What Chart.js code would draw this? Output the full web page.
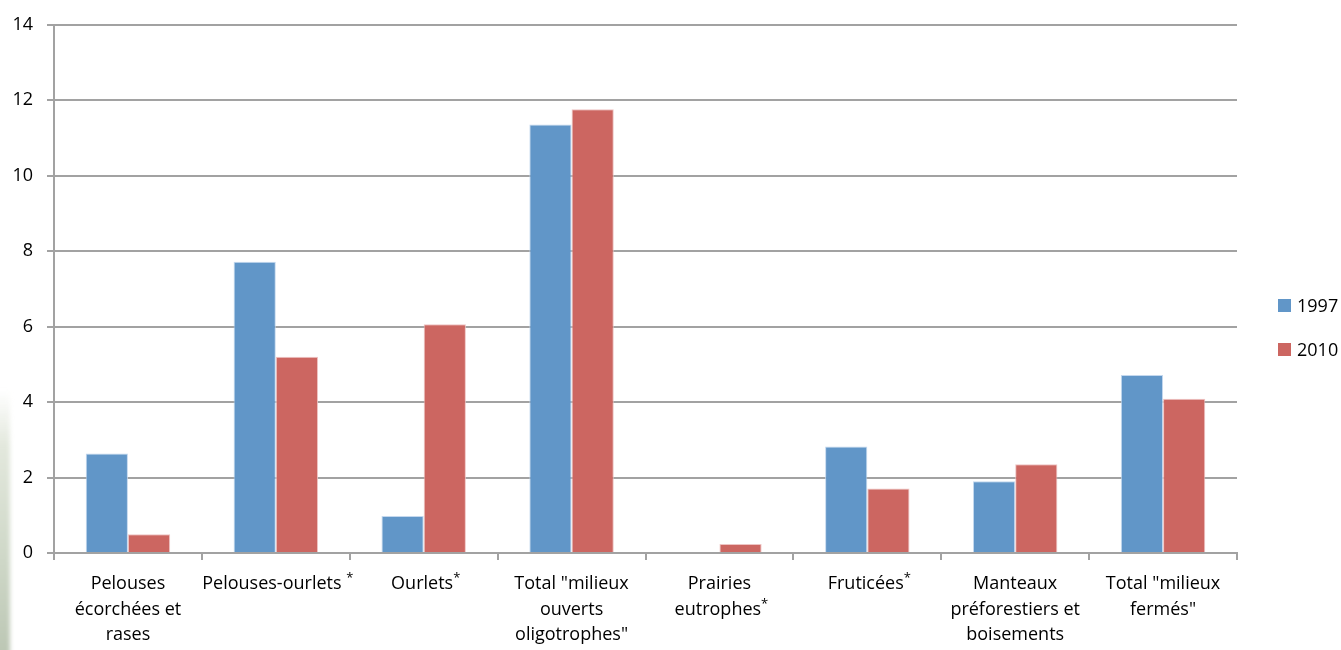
<!DOCTYPE html>
<html lang="fr">
<head>
<meta charset="utf-8">
<title>Milieux 1997 / 2010</title>
<script src="https://cdn.jsdelivr.net/npm/chart.js@4/dist/chart.umd.min.js"></script>
<style>
  html, body { margin: 0; padding: 0; background: #fff; }
  #wrap { position: relative; width: 1341px; height: 650px; overflow: hidden; }
  #edge {
    position: absolute; left: -6px; top: 390px; width: 16px; height: 280px;
    background: linear-gradient(180deg, rgba(225,230,220,0) 0%, #e3e8dd 20%, #cfd8c8 60%, #b9c4b1 100%);
    filter: blur(2px);
  }
  .legend { position: absolute; left: 1278px; font: 18px "Open Sans", sans-serif; color: #000; }
  .legend span.box { position: absolute; left: 0; width: 13px; height: 13px; }
  .legend span.txt { position: absolute; left: 19px; top: -6px; white-space: nowrap; }
</style>
</head>
<body>
<div id="wrap">
  <div id="edge"></div>
  <canvas id="chart"></canvas>
  <div class="legend" style="top:299px"><span class="box" style="background:#6196c8"></span><span class="txt">1997</span></div>
  <div class="legend" style="top:343px"><span class="box" style="background:#cc6661"></span><span class="txt">2010</span></div>
</div>
<script>
// Category labels, one entry per line; a trailing '*' is drawn as a superscript
const categories = [
  ['Pelouses', 'écorchées et', 'rases'],
  ['Pelouses-ourlets *'],
  ['Ourlets*'],
  ['Total "milieux', 'ouverts', 'oligotrophes"'],
  ['Prairies', 'eutrophes*'],
  ['Fruticées*'],
  ['Manteaux', 'préforestiers et', 'boisements'],
  ['Total "milieux', 'fermés"']
];
const years = ['1997', '2010'];
const values1997 = [2.64, 7.72, 0.98, 11.36, 0, 2.82, 1.90, 4.72];
const values2010 = [0.50, 5.20, 6.06, 11.76, 0.24, 1.71, 2.35, 4.09];
const yTicks = [0, 2, 4, 6, 8, 10, 12, 14];

const FONT = '"Open Sans", sans-serif';
const GRID = '#a2a2a2';

// draws the multi-line category names under the axis
const categoryLabels = {
  id: 'categoryLabels',
  afterDraw(chart) {
    const ctx = chart.ctx;
    const xs = chart.scales.x;
    ctx.save();
    ctx.fillStyle = '#000';
    ctx.textBaseline = 'alphabetic';
    ctx.textAlign = 'left';
    categories.forEach((lines, i) => {
      const cx = xs.getPixelForValue(i);
      lines.forEach((line, j) => {
        const y = 589 + j * 25.5;
        const star = line.endsWith('*');
        const main = star ? line.slice(0, -1) : line;
        ctx.font = '18px ' + FONT;
        const w = ctx.measureText(main).width;
        let sw = 0;
        if (star) {
          ctx.font = '13px ' + FONT;
          sw = ctx.measureText('*').width;
        }
        const x0 = cx - (w + sw) / 2 + (star ? 2 : 0);
        ctx.font = '18px ' + FONT;
        ctx.fillText(main, x0, y);
        if (star) {
          ctx.font = '13px ' + FONT;
          ctx.fillText('*', x0 + w, y - 7);
        }
      });
    });
    ctx.restore();
  }
};

new Chart(document.getElementById('chart'), {
  type: 'bar',
  data: {
    labels: categories.map(c => c.join(' ')),
    datasets: [
      { label: years[0], data: values1997, backgroundColor: '#6196c8', borderColor: 'rgba(190,212,236,0.9)', borderWidth: 1, borderSkipped: 'bottom' },
      { label: years[1], data: values2010, backgroundColor: '#cc6661', borderColor: 'rgba(236,190,188,0.9)', borderWidth: 1, borderSkipped: 'bottom' }
    ]
  },
  plugins: [categoryLabels],
  options: {
    responsive: true,
    maintainAspectRatio: false,
    animation: false,
    events: [],
    layout: { padding: { top: 22, right: 104, left: 0, bottom: 0 } },
    datasets: { bar: { categoryPercentage: 0.571, barPercentage: 1 } },
    plugins: { legend: { display: false }, tooltip: { enabled: false } },
    scales: {
      x: {
        grid: { display: true, drawOnChartArea: false, drawTicks: true, tickLength: 7, color: GRID, lineWidth: 2, offset: true },
        border: { color: GRID, width: 2 },
        ticks: { display: false },
        afterFit(scale) { scale.height = 97; }
      },
      y: {
        min: 0,
        max: 14,
        afterBuildTicks(scale) { scale.ticks = yTicks.map(v => ({ value: v })); },
        grid: { color: GRID, lineWidth: 2, tickLength: 7 },
        border: { color: GRID, width: 2 },
        ticks: { color: '#000', font: { family: FONT, size: 18 }, padding: 14 },
        afterFit(scale) { scale.width = 54; }
      }
    }
  }
});
</script>
</body>
</html>
